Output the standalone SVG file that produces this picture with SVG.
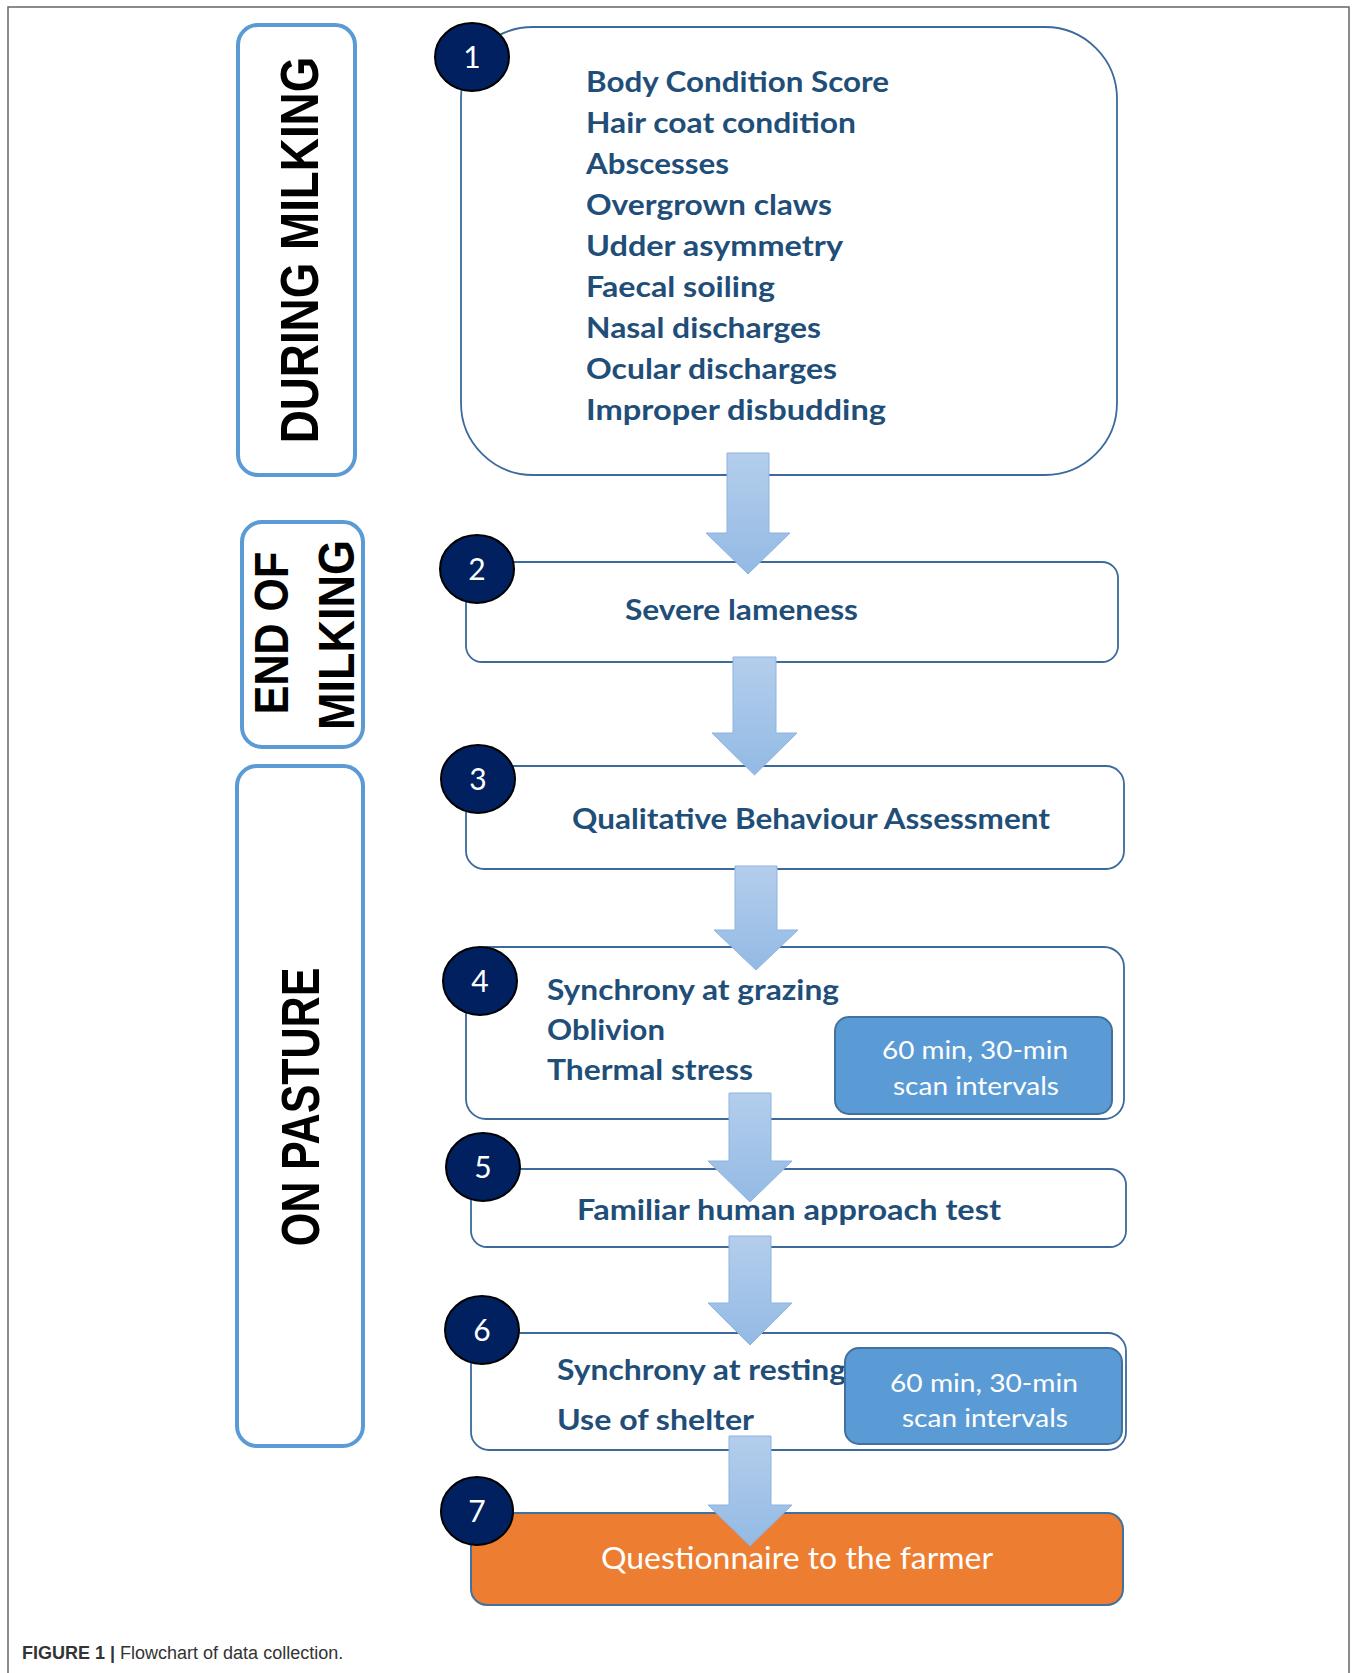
<svg xmlns="http://www.w3.org/2000/svg" width="1360" height="1673" viewBox="0 0 1360 1673">
<defs>
<linearGradient id="ag" x1="0" y1="0" x2="0" y2="1">
<stop offset="0" stop-color="#B4CEEC"/>
<stop offset="1" stop-color="#93BAE4"/>
</linearGradient>
<style>
.side{fill:#fff;stroke:#5B9BD5;stroke-width:4}
.sidet{font-family:"Liberation Sans",Arial,sans-serif;font-weight:bold;fill:#000;text-anchor:middle}
.box{fill:#fff;stroke:#3B6A9B;stroke-width:1.8}
.t{font-family:Lato,"Open Sans",sans-serif;font-weight:bold;font-size:28px;fill:#1F4E79}
.blue{fill:#5B9BD5;stroke:#41719C;stroke-width:2}
.wt{font-family:Lato,"Open Sans",sans-serif;font-size:25px;fill:#fff;text-anchor:middle}
.num{fill:#002060;stroke:#000;stroke-width:2}
.nt{font-family:Lato,"Open Sans",sans-serif;font-size:30px;fill:#fff;text-anchor:middle}
.arrow{fill:url(#ag);stroke:#8DB3E2;stroke-width:1}
.cap{font-family:"Liberation Sans",Arial,sans-serif;font-size:18px;fill:#333}
</style>
</defs>
<rect width="1360" height="1673" fill="#fff"/>
<path d="M8,1673 V7 H1349 V1673" fill="none" stroke="#666" stroke-width="1.5"/>

<g id="label-during">
<rect class="side" x="238" y="25" width="117" height="450" rx="20"/>
<text class="sidet" font-size="45.8" transform="translate(318,250) rotate(-90) scale(1,1.17)">DURING MILKING</text>
</g>
<g id="label-end">
<rect class="side" x="242" y="522" width="121" height="225" rx="20"/>
<text class="sidet" font-size="43" transform="translate(288,633) rotate(-90) scale(1,1.12)">END OF</text>
<text class="sidet" font-size="45" transform="translate(354,635) rotate(-90) scale(1,1.1)">MILKING</text>
</g>
<g id="label-pasture">
<rect class="side" x="237" y="766" width="126" height="680" rx="20"/>
<text class="sidet" font-size="43" transform="translate(319,1107) rotate(-90) scale(1,1.25)">ON PASTURE</text>
</g>

<g id="node1">
<rect class="box" x="461" y="27" width="656" height="448" rx="72"/>
<text class="t" x="586" y="92" textLength="303" lengthAdjust="spacingAndGlyphs">Body Condition Score</text>
<text class="t" x="586" y="133" textLength="270" lengthAdjust="spacingAndGlyphs">Hair coat condition</text>
<text class="t" x="586" y="174" textLength="143" lengthAdjust="spacingAndGlyphs">Abscesses</text>
<text class="t" x="586" y="215" textLength="246" lengthAdjust="spacingAndGlyphs">Overgrown claws</text>
<text class="t" x="586" y="256" textLength="257" lengthAdjust="spacingAndGlyphs">Udder asymmetry</text>
<text class="t" x="586" y="297" textLength="189" lengthAdjust="spacingAndGlyphs">Faecal soiling</text>
<text class="t" x="586" y="338" textLength="235" lengthAdjust="spacingAndGlyphs">Nasal discharges</text>
<text class="t" x="586" y="379" textLength="251" lengthAdjust="spacingAndGlyphs">Ocular discharges</text>
<text class="t" x="586" y="420" textLength="300" lengthAdjust="spacingAndGlyphs">Improper disbudding</text>
</g>
<g id="node2">
<rect class="box" x="466" y="562" width="652" height="100" rx="16"/>
<text class="t" x="625" y="620" textLength="233" lengthAdjust="spacingAndGlyphs">Severe lameness</text>
</g>
<g id="node3">
<rect class="box" x="466" y="766" width="658" height="103" rx="18"/>
<text class="t" x="572" y="829" textLength="478" lengthAdjust="spacingAndGlyphs">Qualitative Behaviour Assessment</text>
</g>
<g id="node4">
<rect class="box" x="466" y="947" width="658" height="172" rx="20"/>
<text class="t" x="547" y="1000" textLength="292" lengthAdjust="spacingAndGlyphs">Synchrony at grazing</text>
<text class="t" x="547" y="1040" textLength="118" lengthAdjust="spacingAndGlyphs">Oblivion</text>
<text class="t" x="547" y="1080" textLength="206" lengthAdjust="spacingAndGlyphs">Thermal stress</text>
<rect class="blue" x="835" y="1017" width="277" height="97" rx="14"/>
<text class="wt" x="975" y="1059" textLength="186" lengthAdjust="spacingAndGlyphs">60 min, 30-min</text>
<text class="wt" x="976" y="1095" textLength="166" lengthAdjust="spacingAndGlyphs">scan intervals</text>
</g>
<g id="node5">
<rect class="box" x="471" y="1169" width="655" height="78" rx="16"/>
<text class="t" x="577" y="1220" textLength="424" lengthAdjust="spacingAndGlyphs">Familiar human approach test</text>
</g>
<g id="node6">
<rect class="box" x="471" y="1333" width="655" height="117" rx="18"/>
<text class="t" x="557" y="1380" textLength="289" lengthAdjust="spacingAndGlyphs">Synchrony at resting</text>
<text class="t" x="557" y="1430" textLength="197" lengthAdjust="spacingAndGlyphs">Use of shelter</text>
<rect class="blue" x="845" y="1348" width="277" height="96" rx="14"/>
<text class="wt" x="984" y="1392" textLength="188" lengthAdjust="spacingAndGlyphs">60 min, 30-min</text>
<text class="wt" x="985" y="1427" textLength="166" lengthAdjust="spacingAndGlyphs">scan intervals</text>
</g>
<g id="node7">
<rect x="471" y="1513" width="652" height="92" rx="16" fill="#ED7D31" stroke="#41719C" stroke-width="2"/>
<text x="797" y="1569" font-family="Lato,'Open Sans',sans-serif" font-size="30" fill="#fff" text-anchor="middle" textLength="392" lengthAdjust="spacingAndGlyphs">Questionnaire to the farmer</text>
</g>

<g id="connectors">
<path class="arrow" d="M727,453 H769 V533 H790 L748,574 L706,533 H727 Z"/>
<path class="arrow" d="M733,657 H776 V733 H797 L754.5,775 L712,733 H733 Z"/>
<path class="arrow" d="M735,866 H777 V930 H798 L756,970 L714,930 H735 Z"/>
<path class="arrow" d="M729,1093 H771 V1161 H792 L750,1202 L708,1161 H729 Z"/>
<path class="arrow" d="M729,1236 H771 V1303 H792 L750,1345 L708,1303 H729 Z"/>
<path class="arrow" d="M729,1436 H771 V1505 H792 L750,1546 L708,1505 H729 Z"/>
</g>

<g id="badges">
<g id="badge1"><ellipse class="num" cx="472" cy="57" rx="37" ry="34"/><text class="nt" x="472" y="68">1</text></g>
<g id="badge2"><ellipse class="num" cx="477" cy="569" rx="37" ry="34"/><text class="nt" x="477" y="580">2</text></g>
<g id="badge3"><ellipse class="num" cx="478" cy="779" rx="37" ry="34"/><text class="nt" x="478" y="790">3</text></g>
<g id="badge4"><ellipse class="num" cx="480" cy="981" rx="37" ry="34"/><text class="nt" x="480" y="992">4</text></g>
<g id="badge5"><ellipse class="num" cx="483" cy="1167" rx="37" ry="34"/><text class="nt" x="483" y="1178">5</text></g>
<g id="badge6"><ellipse class="num" cx="482" cy="1330" rx="37" ry="34"/><text class="nt" x="482" y="1341">6</text></g>
<g id="badge7"><ellipse class="num" cx="477" cy="1511" rx="36" ry="34"/><text class="nt" x="477" y="1522">7</text></g>
</g>

<text class="cap" x="22" y="1659"><tspan font-weight="bold">FIGURE 1 |</tspan> Flowchart of data collection.</text>
</svg>
